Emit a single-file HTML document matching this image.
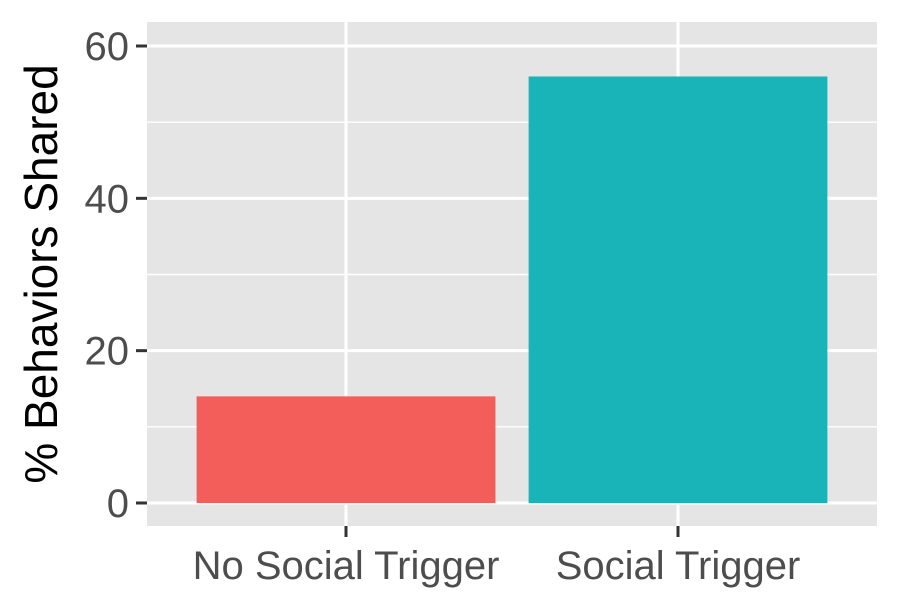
<!DOCTYPE html>
<html><head><meta charset="utf-8">
<style>
html,body{margin:0;padding:0;background:#fff;}
svg{display:block;font-family:"Liberation Sans",Arial,sans-serif;}
</style></head>
<body>
<svg id="chart" width="900" height="600">
<rect x="147" y="22" width="730" height="504" fill="#e5e5e5"/>
<g id="grid"></g>
<g id="bars"></g>
<g id="axes"></g>
<text transform="translate(57,274) rotate(-90)" text-anchor="middle" font-size="46" fill="#000">% Behaviors Shared</text>
</svg>
<script>
const categories = ["No Social Trigger", "Social Trigger"];
const values = [14, 56];
const colors = ["#F35E5A", "#19B4B8"];
const yTicks = [0, 20, 40, 60];
const yMinor = [10, 30, 50];

const NS = "http://www.w3.org/2000/svg";
const panel = {x0:147, x1:877};
function y(v){ return 503 - v * (503 - 46) / 60; }
const band = 332;
function x(i){ return 346 + i * band; }

function mk(tag, attrs, parent){
  const e = document.createElementNS(NS, tag);
  for (const k in attrs) e.setAttribute(k, attrs[k]);
  parent.appendChild(e);
  return e;
}
const grid = document.getElementById("grid");
const bars = document.getElementById("bars");
const axes = document.getElementById("axes");

yMinor.forEach(v => {
  const l = mk("line", {x1:panel.x0, x2:panel.x1, y1:y(v), y2:y(v), stroke:"#fff", "stroke-width":1.4}, grid);
  
  
});
yTicks.forEach(v => {
  const l = mk("line", {x1:panel.x0, x2:panel.x1, y1:y(v), y2:y(v), stroke:"#fff", "stroke-width":3}, grid);
  
  
  const t = mk("line", {x1:136, x2:147, y1:y(v), y2:y(v), stroke:"#333", "stroke-width":3}, axes);
  
  
  const tx = mk("text", {x:129, y:y(v)+14, "text-anchor":"end", "font-size":40, fill:"#4d4d4d"}, axes);
  tx.textContent = v;
  
  
});
categories.forEach((c, i) => {
  const l = mk("line", {x1:x(i), x2:x(i), y1:22, y2:526, stroke:"#fff", "stroke-width":3}, grid);
  
  
  const w = band * 0.9;
  const r = mk("rect", {x:x(i)-w/2, y:y(values[i]), width:w, height:y(0)-y(values[i]), fill:colors[i]}, bars);
  
  
  const t = mk("line", {x1:x(i), x2:x(i), y1:526, y2:537, stroke:"#333", "stroke-width":3}, axes);
  
  
  const tx = mk("text", {x:x(i), y:579, "text-anchor":"middle", "font-size":40, fill:"#4d4d4d"}, axes);
  tx.textContent = c;
  
  
});
</script>
</body></html>
